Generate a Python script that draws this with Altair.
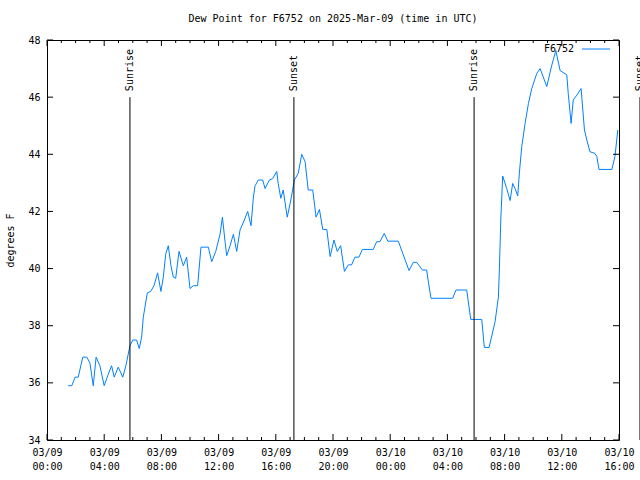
import altair as alt
import pandas as pd

# ---- data ----
times = [
    "2025-03-09 01:29", "2025-03-09 01:44", "2025-03-09 01:58", "2025-03-09 02:11", "2025-03-09 02:30",
    "2025-03-09 02:47", "2025-03-09 03:00", "2025-03-09 03:14", "2025-03-09 03:26", "2025-03-09 03:42",
    "2025-03-09 04:00", "2025-03-09 04:17", "2025-03-09 04:31", "2025-03-09 04:42", "2025-03-09 04:59",
    "2025-03-09 05:18", "2025-03-09 05:31", "2025-03-09 05:48", "2025-03-09 06:00", "2025-03-09 06:16",
    "2025-03-09 06:27", "2025-03-09 06:37", "2025-03-09 06:44", "2025-03-09 07:01", "2025-03-09 07:15",
    "2025-03-09 07:29", "2025-03-09 07:44", "2025-03-09 07:58", "2025-03-09 08:08", "2025-03-09 08:18",
    "2025-03-09 08:29", "2025-03-09 08:40", "2025-03-09 08:50", "2025-03-09 09:00", "2025-03-09 09:14",
    "2025-03-09 09:32", "2025-03-09 09:46", "2025-03-09 10:00", "2025-03-09 10:14", "2025-03-09 10:32",
    "2025-03-09 10:46", "2025-03-09 11:17", "2025-03-09 11:31", "2025-03-09 11:48", "2025-03-09 12:06",
    "2025-03-09 12:16", "2025-03-09 12:27", "2025-03-09 12:34", "2025-03-09 12:48", "2025-03-09 13:02",
    "2025-03-09 13:16", "2025-03-09 13:30", "2025-03-09 13:48", "2025-03-09 14:02", "2025-03-09 14:16",
    "2025-03-09 14:26", "2025-03-09 14:33", "2025-03-09 14:47", "2025-03-09 15:05", "2025-03-09 15:15",
    "2025-03-09 15:33", "2025-03-09 15:47", "2025-03-09 16:04", "2025-03-09 16:10", "2025-03-09 16:21",
    "2025-03-09 16:31", "2025-03-09 16:48", "2025-03-09 17:03", "2025-03-09 17:18", "2025-03-09 17:34",
    "2025-03-09 17:49", "2025-03-09 18:03", "2025-03-09 18:16", "2025-03-09 18:35", "2025-03-09 18:49",
    "2025-03-09 19:03", "2025-03-09 19:17", "2025-03-09 19:34", "2025-03-09 19:48", "2025-03-09 20:04",
    "2025-03-09 20:18", "2025-03-09 20:32", "2025-03-09 20:48", "2025-03-09 21:04", "2025-03-09 21:18",
    "2025-03-09 21:32", "2025-03-09 21:49", "2025-03-09 22:03", "2025-03-09 22:49", "2025-03-09 23:03",
    "2025-03-09 23:17", "2025-03-09 23:35", "2025-03-09 23:50", "2025-03-10 00:34", "2025-03-10 01:19",
    "2025-03-10 01:37", "2025-03-10 01:51", "2025-03-10 02:15", "2025-03-10 02:33", "2025-03-10 02:40",
    "2025-03-10 02:51", "2025-03-10 04:22", "2025-03-10 04:36", "2025-03-10 05:21", "2025-03-10 05:38",
    "2025-03-10 06:24", "2025-03-10 06:35", "2025-03-10 06:55", "2025-03-10 07:20", "2025-03-10 07:34",
    "2025-03-10 07:38", "2025-03-10 07:44", "2025-03-10 07:52", "2025-03-10 08:09", "2025-03-10 08:23",
    "2025-03-10 08:34", "2025-03-10 08:44", "2025-03-10 08:55", "2025-03-10 09:02", "2025-03-10 09:12",
    "2025-03-10 09:26", "2025-03-10 09:40", "2025-03-10 09:54", "2025-03-10 10:15", "2025-03-10 10:29",
    "2025-03-10 10:57", "2025-03-10 11:18", "2025-03-10 11:35", "2025-03-10 11:53", "2025-03-10 12:21",
    "2025-03-10 12:27", "2025-03-10 12:39", "2025-03-10 12:48", "2025-03-10 13:03", "2025-03-10 13:21",
    "2025-03-10 13:35", "2025-03-10 13:45", "2025-03-10 13:58", "2025-03-10 14:19", "2025-03-10 14:27",
    "2025-03-10 14:36", "2025-03-10 15:30", "2025-03-10 15:43", "2025-03-10 15:55",
]
dew = [
    35.9, 35.9, 36.2, 36.2, 36.9,
    36.9, 36.7, 35.9, 36.9, 36.6,
    35.9, 36.3, 36.6, 36.2, 36.55,
    36.2, 36.6, 37.3, 37.5, 37.5,
    37.2, 37.6, 38.3, 39.15, 39.2,
    39.4, 39.85, 39.2, 39.7, 40.5,
    40.8, 40.1, 39.7, 39.66, 40.6,
    40.1, 40.4, 39.3, 39.4, 39.4,
    40.75, 40.75, 40.24, 40.6, 41.2,
    41.8, 40.95, 40.45, 40.8, 41.2,
    40.6, 41.35, 41.7, 42.0, 41.5,
    42.5, 42.9, 43.1, 43.1, 42.8,
    43.1, 43.15, 43.4, 42.98, 42.46,
    42.75, 41.8, 42.4, 43.1, 43.33,
    44.0, 43.74, 42.75, 42.75, 41.8,
    42.07, 41.37, 41.37, 40.42, 41.0,
    40.6, 40.8, 39.9, 40.13, 40.13,
    40.4, 40.4, 40.67, 40.67, 40.94,
    40.94, 41.23, 40.96, 40.96, 39.93,
    40.22, 40.22, 39.95, 39.95, 39.54,
    38.96, 38.96, 39.25, 39.25, 38.22,
    38.22, 37.24, 37.24, 38.14, 39.0,
    39.95, 41.7, 43.24, 42.8, 42.38,
    42.98, 42.8, 42.54, 43.35, 44.27,
    45.08, 45.78, 46.3, 46.83, 47.0,
    46.37, 47.12, 47.63, 46.93, 46.78,
    46.13, 45.08, 45.9, 46.07, 46.3,
    44.85, 44.5, 44.09, 44.03, 43.92,
    43.47, 43.47, 43.92, 44.85,
]
sun_times = ["2025-03-09 05:48", "2025-03-09 17:16", "2025-03-10 05:52", "2025-03-10 17:28"]
sun_labels = ["Sunrise", "Sunset", "Sunrise", "Sunset"]
y_tick_values = [34, 36, 38, 40, 42, 44, 46, 48]
x_start = "2025-03-09 00:00"
x_hours = 40          # axis spans 40 hours
x_label_step = 4      # labelled tick every 4 hours
station = "F6752"
title_text = "Dew Point for F6752 on 2025-Mar-09 (time in UTC)"

FONT = "DejaVu Sans Mono"
LINE_COLOR = "#0080ff"
W, H = 572, 400


def iso(s):
    return pd.Timestamp(s).strftime("%Y-%m-%dT%H:%M:%SZ")


df = pd.DataFrame({"t": [iso(s) for s in times], "v": dew})
sun = pd.DataFrame({"t": [iso(s) for s in sun_times], "label": sun_labels})

t0 = pd.Timestamp(x_start)
hour_ts = [t0 + pd.Timedelta(hours=h) for h in range(x_hours + 1)]
ticks = pd.DataFrame({
    "t": [iso(t) for t in hour_ts],
    "major": [h % x_label_step == 0 for h in range(x_hours + 1)],
})
major_ticks = ticks[ticks["major"]]
minor_ticks = ticks[~ticks["major"]]
yticks = pd.DataFrame({"v": y_tick_values})


def dt(ts):
    return alt.DateTime(year=ts.year, month=ts.month, date=ts.day,
                        hours=ts.hour, minutes=ts.minute, utc=True)


x_domain = [dt(t0), dt(t0 + pd.Timedelta(hours=x_hours))]
x_values = [dt(t) for t in hour_ts[::x_label_step]]

x_scale = alt.Scale(type="utc", domain=x_domain, nice=False)
y_scale = alt.Scale(domain=[34, 48], nice=False, zero=False)

x_axis = alt.Axis(
    values=x_values, title=None, grid=False, ticks=False, domain=False,
    labelExpr="[utcFormat(datum.value, '%m/%d'), utcFormat(datum.value, '%H:%M')]",
    labelFont=FONT, labelFontSize=10, labelColor="black", labelPadding=7,
    labelLineHeight=14, labelFlush=False, labelOverlap=False, labelBound=False,
    labelAlign="center", labelBaseline="top",
)
y_axis = alt.Axis(
    values=y_tick_values, title="degrees F", grid=False, ticks=False, domain=False,
    labelFont=FONT, labelFontSize=10, labelColor="black", labelPadding=7,
    titleFont=FONT, titleFontSize=10, titleFontWeight="normal", titleColor="black",
    titleAngle=270, titleX=-37, titleY=H / 2, titleAlign="center", titleBaseline="middle",
)

X = alt.X("t:T", scale=x_scale, axis=x_axis)
Y = alt.Y("v:Q", scale=y_scale, axis=y_axis)

line = alt.Chart(df).mark_line(color=LINE_COLOR, strokeWidth=1, interpolate="linear").encode(x=X, y=Y)

sun_rule = alt.Chart(sun).mark_rule(color="black", strokeWidth=1).encode(
    x=alt.X("t:T", scale=x_scale, axis=x_axis),
    y=alt.datum(46), y2=alt.datum(34),
)
sun_text = alt.Chart(sun).mark_text(
    angle=270, align="left", baseline="middle", dx=6, font=FONT, fontSize=10, color="black"
).encode(
    x=alt.X("t:T", scale=x_scale, axis=x_axis),
    y=alt.datum(46), text="label:N",
)


def xtick(data, y0, y1):
    return alt.Chart(data).mark_rule(color="black", strokeWidth=1).encode(
        x=alt.X("t:T", scale=x_scale, axis=x_axis), y=alt.value(y0), y2=alt.value(y1)
    )


def ytick(x0, x1):
    return alt.Chart(yticks).mark_rule(color="black", strokeWidth=1).encode(
        y=alt.Y("v:Q", scale=y_scale, axis=y_axis), x=alt.value(x0), x2=alt.value(x1)
    )


tick_layers = [
    xtick(major_ticks, H, H - 6), xtick(minor_ticks, H, H - 3),
    xtick(major_ticks, 0, 6), xtick(minor_ticks, 0, 3),
    ytick(0, 6), ytick(W, W - 6),
]

legend_df = pd.DataFrame({"name": [station]})
legend_text = alt.Chart(legend_df).mark_text(
    align="right", baseline="middle", font=FONT, fontSize=10, color="black"
).encode(x=alt.value(527), y=alt.value(9), text="name:N")
legend_line = alt.Chart(legend_df).mark_rule(color=LINE_COLOR, strokeWidth=1).encode(
    x=alt.value(535), x2=alt.value(563), y=alt.value(9)
)

chart = alt.layer(
    line, sun_rule, sun_text, *tick_layers, legend_line, legend_text
).properties(
    width=W, height=H,
    title=alt.TitleParams(title_text, font=FONT, fontSize=10, fontWeight="normal",
                          color="black", anchor="middle", offset=11),
    autosize=alt.AutoSizeParams(type="none"),
    padding={"left": 47, "top": 40, "right": 21, "bottom": 40},
    background="white",
).configure_view(stroke="black", strokeWidth=1)

chart.save("out.html", embed_options={"renderer": "svg", "actions": False})
